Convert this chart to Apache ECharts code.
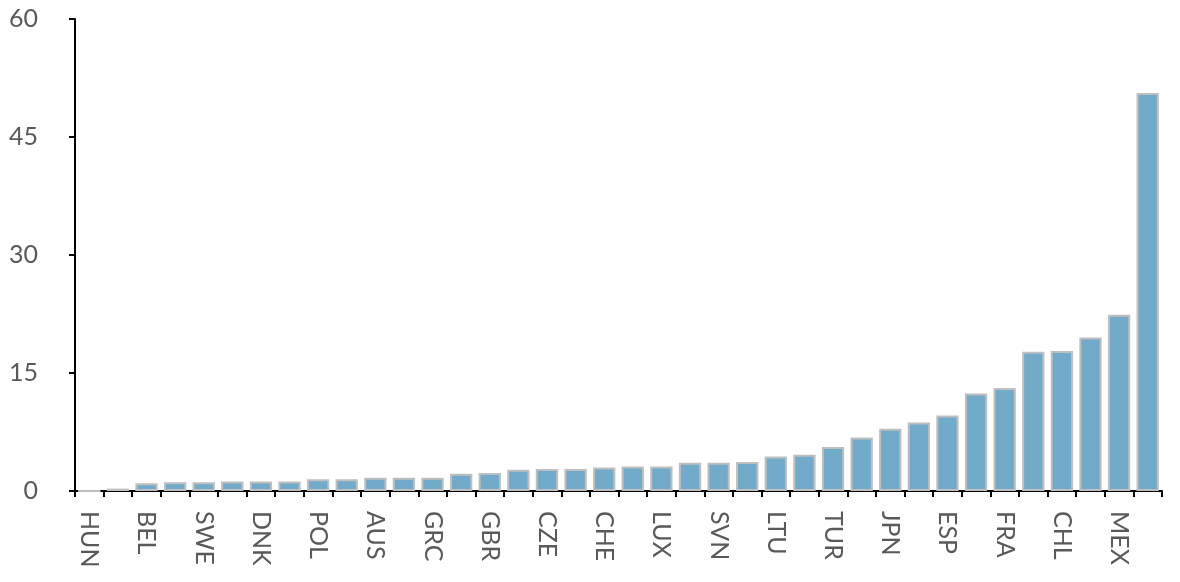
<!DOCTYPE html>
<html>
<head>
<meta charset="utf-8">
<title>bars</title>
<script src="https://cdn.jsdelivr.net/npm/echarts@6/dist/echarts.min.js"></script>
</head>
<body style="margin:0">
<div id="chart" style="width:1180px;height:582px;"></div>
<script type="text/javascript">
// categories: only every other one is labelled in the reference
var categories = ['HUN', '', 'BEL', '', 'SWE', '', 'DNK', '', 'POL', '', 'AUS', '', 'GRC', '',
    'GBR', '', 'CZE', '', 'CHE', '', 'LUX', '', 'SVN', '', 'LTU', '', 'TUR', '', 'JPN', '',
    'ESP', '', 'FRA', '', 'CHL', '', 'MEX', ''];
var values = [0, 0.3, 1.0, 1.1, 1.1, 1.2, 1.2, 1.2, 1.5, 1.5, 1.7, 1.7, 1.7, 2.2,
    2.3, 2.7, 2.8, 2.8, 3.0, 3.1, 3.1, 3.6, 3.6, 3.7, 4.4, 4.6, 5.6, 6.8, 7.9, 8.7,
    9.6, 12.4, 13.1, 17.7, 17.8, 19.5, 22.4, 50.6];
var yTicks = [0, 15, 30, 45, 60];

var font = 'Lato, "Noto Sans", sans-serif';
var myChart = echarts.init(document.getElementById('chart'));
var option = {
    animation: false,
    grid: { left: 75, right: 18, top: 19, bottom: 91 },
    xAxis: {
        type: 'category',
        data: categories,
        axisLine: { lineStyle: { color: '#000', width: 2 } },
        axisTick: { show: true, length: 6, lineStyle: { color: '#000', width: 2 } },
        axisLabel: {
            interval: 0,
            rotate: -90,
            margin: 20,
            color: '#595959',
            fontSize: 25,
            fontFamily: font
        },
        splitLine: { show: false }
    },
    yAxis: {
        type: 'value',
        min: yTicks[0],
        max: yTicks[yTicks.length - 1],
        interval: 15,
        axisLine: { show: true, lineStyle: { color: '#000', width: 2 } },
        axisTick: { show: true, length: 6, lineStyle: { color: '#000', width: 2 } },
        axisLabel: {
            margin: 37,
            color: '#595959',
            fontSize: 25,
            fontFamily: font
        },
        splitLine: { show: false }
    },
    series: [
        {
            type: 'bar',
            data: values,
            barCategoryGap: '22%',
            itemStyle: {
                color: '#72abc9',
                borderColor: '#bfbfbf',
                borderWidth: 2
            }
        }
    ]
};
myChart.setOption(option);
</script>
</body>
</html>
